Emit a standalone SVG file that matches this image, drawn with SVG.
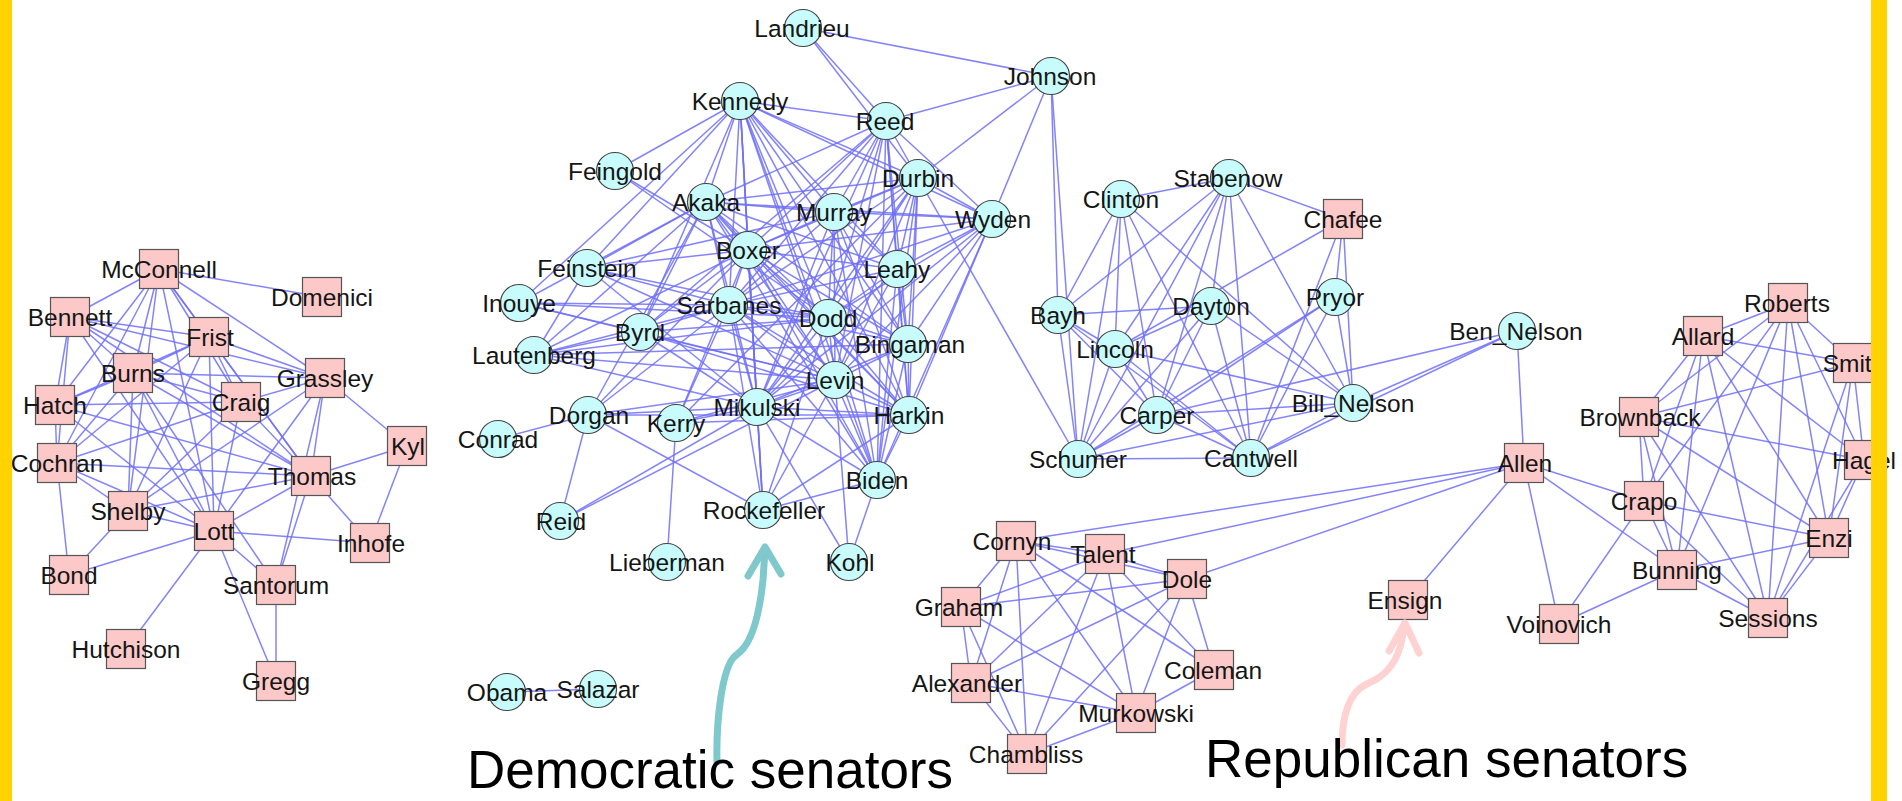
<svg xmlns="http://www.w3.org/2000/svg" width="1902" height="801" viewBox="0 0 1902 801">
<style>
.e line{stroke:#6e6ef8;stroke-width:1.5;stroke-opacity:0.85}
.d circle{fill:#c8fcfc;stroke:#444;stroke-width:1.2}
.r rect{fill:#fcc8c8;stroke:#555;stroke-width:1.2}
text.l{font-family:"Liberation Sans",Arial,sans-serif;font-size:24.5px;fill:#151515;text-anchor:middle}
text.a{font-family:"Liberation Sans",Arial,sans-serif;font-size:53px;fill:#000}
</style>
<rect x="0" y="0" width="1902" height="801" fill="#fff"/>
<g id="connectors" class="e">
<!-- left republican cluster -->
<line x1="159" y1="269" x2="322" y2="297"/><line x1="159" y1="269" x2="70" y2="317"/><line x1="159" y1="269" x2="209" y2="337"/><line x1="159" y1="269" x2="325" y2="378"/><line x1="159" y1="269" x2="55" y2="405"/><line x1="159" y1="269" x2="57" y2="463"/><line x1="159" y1="269" x2="133" y2="373"/><line x1="159" y1="269" x2="128" y2="511"/><line x1="159" y1="269" x2="214" y2="531"/><line x1="159" y1="269" x2="241" y2="402"/><line x1="159" y1="269" x2="311" y2="476"/>
<line x1="70" y1="317" x2="209" y2="337"/><line x1="70" y1="317" x2="133" y2="373"/><line x1="70" y1="317" x2="241" y2="402"/><line x1="70" y1="317" x2="311" y2="476"/><line x1="70" y1="317" x2="55" y2="405"/><line x1="70" y1="317" x2="57" y2="463"/><line x1="70" y1="317" x2="214" y2="531"/><line x1="70" y1="317" x2="325" y2="378"/>
<line x1="209" y1="337" x2="133" y2="373"/><line x1="209" y1="337" x2="325" y2="378"/><line x1="209" y1="337" x2="241" y2="402"/><line x1="209" y1="337" x2="311" y2="476"/><line x1="209" y1="337" x2="214" y2="531"/><line x1="209" y1="337" x2="55" y2="405"/><line x1="209" y1="337" x2="57" y2="463"/><line x1="209" y1="337" x2="128" y2="511"/>
<line x1="133" y1="373" x2="325" y2="378"/><line x1="133" y1="373" x2="241" y2="402"/><line x1="133" y1="373" x2="55" y2="405"/><line x1="133" y1="373" x2="57" y2="463"/><line x1="133" y1="373" x2="128" y2="511"/><line x1="133" y1="373" x2="214" y2="531"/><line x1="133" y1="373" x2="311" y2="476"/><line x1="133" y1="373" x2="276" y2="585"/>
<line x1="55" y1="405" x2="241" y2="402"/><line x1="55" y1="405" x2="57" y2="463"/><line x1="55" y1="405" x2="214" y2="531"/><line x1="55" y1="405" x2="311" y2="476"/>
<line x1="241" y1="402" x2="325" y2="378"/><line x1="241" y1="402" x2="57" y2="463"/><line x1="241" y1="402" x2="128" y2="511"/><line x1="241" y1="402" x2="214" y2="531"/><line x1="241" y1="402" x2="311" y2="476"/>
<line x1="325" y1="378" x2="407" y2="446"/><line x1="325" y1="378" x2="311" y2="476"/><line x1="325" y1="378" x2="214" y2="531"/><line x1="325" y1="378" x2="128" y2="511"/><line x1="325" y1="378" x2="276" y2="585"/>
<line x1="57" y1="463" x2="311" y2="476"/><line x1="57" y1="463" x2="128" y2="511"/><line x1="57" y1="463" x2="214" y2="531"/><line x1="57" y1="463" x2="69" y2="575"/>
<line x1="311" y1="476" x2="407" y2="446"/><line x1="311" y1="476" x2="370" y2="543"/><line x1="311" y1="476" x2="214" y2="531"/><line x1="311" y1="476" x2="128" y2="511"/><line x1="311" y1="476" x2="276" y2="585"/>
<line x1="407" y1="446" x2="370" y2="543"/><line x1="128" y1="511" x2="214" y2="531"/><line x1="128" y1="511" x2="69" y2="575"/>
<line x1="214" y1="531" x2="370" y2="543"/><line x1="214" y1="531" x2="69" y2="575"/><line x1="214" y1="531" x2="276" y2="585"/><line x1="214" y1="531" x2="126" y2="649"/><line x1="214" y1="531" x2="276" y2="681"/><line x1="276" y1="585" x2="276" y2="681"/>
<!-- central democratic cluster: periphery -->
<line x1="803" y1="28" x2="1051" y2="76"/><line x1="803" y1="28" x2="886" y2="121"/><line x1="803" y1="28" x2="918" y2="178"/>
<line x1="1051" y1="76" x2="886" y2="121"/><line x1="1051" y1="76" x2="918" y2="178"/><line x1="1051" y1="76" x2="992" y2="219"/><line x1="1051" y1="76" x2="1058" y2="315"/><line x1="1051" y1="76" x2="1078" y2="459"/><line x1="918" y1="178" x2="1078" y2="459"/>
<line x1="740" y1="101" x2="615" y2="171"/><line x1="740" y1="101" x2="519" y2="303"/><line x1="740" y1="101" x2="587" y2="268"/><line x1="740" y1="101" x2="640" y2="332"/><line x1="740" y1="101" x2="763" y2="510"/>
<line x1="615" y1="171" x2="748" y2="250"/><line x1="615" y1="171" x2="828" y2="318"/>
<line x1="587" y1="268" x2="706" y2="202"/><line x1="587" y1="268" x2="748" y2="250"/><line x1="587" y1="268" x2="729" y2="305"/><line x1="587" y1="268" x2="828" y2="318"/><line x1="587" y1="268" x2="835" y2="380"/><line x1="587" y1="268" x2="534" y2="355"/><line x1="587" y1="268" x2="757" y2="407"/><line x1="587" y1="268" x2="834" y2="212"/>
<line x1="519" y1="303" x2="706" y2="202"/><line x1="519" y1="303" x2="729" y2="305"/><line x1="519" y1="303" x2="640" y2="332"/><line x1="519" y1="303" x2="828" y2="318"/><line x1="519" y1="303" x2="835" y2="380"/>
<line x1="534" y1="355" x2="706" y2="202"/><line x1="534" y1="355" x2="748" y2="250"/><line x1="534" y1="355" x2="729" y2="305"/><line x1="534" y1="355" x2="640" y2="332"/><line x1="534" y1="355" x2="828" y2="318"/><line x1="534" y1="355" x2="835" y2="380"/><line x1="534" y1="355" x2="908" y2="344"/><line x1="534" y1="355" x2="757" y2="407"/>
<line x1="640" y1="332" x2="729" y2="305"/><line x1="640" y1="332" x2="748" y2="250"/><line x1="640" y1="332" x2="828" y2="318"/><line x1="640" y1="332" x2="835" y2="380"/><line x1="640" y1="332" x2="757" y2="407"/><line x1="640" y1="332" x2="886" y2="121"/><line x1="640" y1="332" x2="909" y2="415"/><line x1="640" y1="332" x2="706" y2="202"/>
<line x1="588" y1="415" x2="498" y2="439"/><line x1="588" y1="415" x2="560" y2="521"/><line x1="588" y1="415" x2="748" y2="250"/><line x1="588" y1="415" x2="729" y2="305"/><line x1="588" y1="415" x2="757" y2="407"/><line x1="588" y1="415" x2="763" y2="510"/><line x1="588" y1="415" x2="706" y2="202"/><line x1="588" y1="415" x2="835" y2="380"/><line x1="588" y1="415" x2="909" y2="415"/>
<line x1="676" y1="423" x2="667" y2="562"/><line x1="676" y1="423" x2="729" y2="305"/><line x1="676" y1="423" x2="757" y2="407"/><line x1="676" y1="423" x2="748" y2="250"/><line x1="676" y1="423" x2="835" y2="380"/><line x1="676" y1="423" x2="918" y2="178"/><line x1="676" y1="423" x2="909" y2="415"/>
<line x1="560" y1="521" x2="757" y2="407"/><line x1="560" y1="521" x2="835" y2="380"/>
<line x1="763" y1="510" x2="757" y2="407"/><line x1="763" y1="510" x2="835" y2="380"/><line x1="763" y1="510" x2="828" y2="318"/><line x1="763" y1="510" x2="729" y2="305"/><line x1="763" y1="510" x2="909" y2="415"/><line x1="763" y1="510" x2="877" y2="480"/><line x1="763" y1="510" x2="748" y2="250"/>
<line x1="849" y1="562" x2="757" y2="407"/><line x1="849" y1="562" x2="877" y2="480"/><line x1="849" y1="562" x2="835" y2="380"/>
<!-- central democratic cluster: core -->
<line x1="740" y1="101" x2="886" y2="121"/><line x1="740" y1="101" x2="918" y2="178"/><line x1="740" y1="101" x2="706" y2="202"/><line x1="740" y1="101" x2="834" y2="212"/><line x1="740" y1="101" x2="992" y2="219"/><line x1="740" y1="101" x2="748" y2="250"/><line x1="740" y1="101" x2="897" y2="269"/><line x1="740" y1="101" x2="729" y2="305"/><line x1="740" y1="101" x2="828" y2="318"/><line x1="740" y1="101" x2="908" y2="344"/><line x1="740" y1="101" x2="835" y2="380"/><line x1="740" y1="101" x2="909" y2="415"/><line x1="740" y1="101" x2="757" y2="407"/><line x1="740" y1="101" x2="877" y2="480"/>
<line x1="886" y1="121" x2="918" y2="178"/><line x1="886" y1="121" x2="706" y2="202"/><line x1="886" y1="121" x2="834" y2="212"/><line x1="886" y1="121" x2="992" y2="219"/><line x1="886" y1="121" x2="748" y2="250"/><line x1="886" y1="121" x2="897" y2="269"/><line x1="886" y1="121" x2="729" y2="305"/><line x1="886" y1="121" x2="828" y2="318"/><line x1="886" y1="121" x2="908" y2="344"/><line x1="886" y1="121" x2="835" y2="380"/><line x1="886" y1="121" x2="909" y2="415"/><line x1="886" y1="121" x2="757" y2="407"/><line x1="886" y1="121" x2="877" y2="480"/>
<line x1="918" y1="178" x2="706" y2="202"/><line x1="918" y1="178" x2="834" y2="212"/><line x1="918" y1="178" x2="992" y2="219"/><line x1="918" y1="178" x2="748" y2="250"/><line x1="918" y1="178" x2="897" y2="269"/><line x1="918" y1="178" x2="729" y2="305"/><line x1="918" y1="178" x2="828" y2="318"/><line x1="918" y1="178" x2="908" y2="344"/><line x1="918" y1="178" x2="835" y2="380"/><line x1="918" y1="178" x2="909" y2="415"/><line x1="918" y1="178" x2="757" y2="407"/><line x1="918" y1="178" x2="877" y2="480"/>
<line x1="706" y1="202" x2="834" y2="212"/><line x1="706" y1="202" x2="992" y2="219"/><line x1="706" y1="202" x2="748" y2="250"/><line x1="706" y1="202" x2="897" y2="269"/><line x1="706" y1="202" x2="729" y2="305"/><line x1="706" y1="202" x2="828" y2="318"/><line x1="706" y1="202" x2="908" y2="344"/><line x1="706" y1="202" x2="835" y2="380"/><line x1="706" y1="202" x2="909" y2="415"/><line x1="706" y1="202" x2="757" y2="407"/><line x1="706" y1="202" x2="877" y2="480"/>
<line x1="834" y1="212" x2="992" y2="219"/><line x1="834" y1="212" x2="748" y2="250"/><line x1="834" y1="212" x2="897" y2="269"/><line x1="834" y1="212" x2="729" y2="305"/><line x1="834" y1="212" x2="828" y2="318"/><line x1="834" y1="212" x2="908" y2="344"/><line x1="834" y1="212" x2="835" y2="380"/><line x1="834" y1="212" x2="909" y2="415"/><line x1="834" y1="212" x2="757" y2="407"/><line x1="834" y1="212" x2="877" y2="480"/>
<line x1="992" y1="219" x2="748" y2="250"/><line x1="992" y1="219" x2="897" y2="269"/><line x1="992" y1="219" x2="729" y2="305"/><line x1="992" y1="219" x2="828" y2="318"/><line x1="992" y1="219" x2="908" y2="344"/><line x1="992" y1="219" x2="835" y2="380"/><line x1="992" y1="219" x2="909" y2="415"/><line x1="992" y1="219" x2="757" y2="407"/><line x1="992" y1="219" x2="877" y2="480"/>
<line x1="748" y1="250" x2="897" y2="269"/><line x1="748" y1="250" x2="729" y2="305"/><line x1="748" y1="250" x2="828" y2="318"/><line x1="748" y1="250" x2="908" y2="344"/><line x1="748" y1="250" x2="835" y2="380"/><line x1="748" y1="250" x2="909" y2="415"/><line x1="748" y1="250" x2="757" y2="407"/><line x1="748" y1="250" x2="877" y2="480"/>
<line x1="897" y1="269" x2="729" y2="305"/><line x1="897" y1="269" x2="828" y2="318"/><line x1="897" y1="269" x2="908" y2="344"/><line x1="897" y1="269" x2="835" y2="380"/><line x1="897" y1="269" x2="909" y2="415"/><line x1="897" y1="269" x2="757" y2="407"/><line x1="897" y1="269" x2="877" y2="480"/>
<line x1="729" y1="305" x2="828" y2="318"/><line x1="729" y1="305" x2="908" y2="344"/><line x1="729" y1="305" x2="835" y2="380"/><line x1="729" y1="305" x2="909" y2="415"/><line x1="729" y1="305" x2="757" y2="407"/><line x1="729" y1="305" x2="877" y2="480"/>
<line x1="828" y1="318" x2="908" y2="344"/><line x1="828" y1="318" x2="835" y2="380"/><line x1="828" y1="318" x2="909" y2="415"/><line x1="828" y1="318" x2="757" y2="407"/><line x1="828" y1="318" x2="877" y2="480"/>
<line x1="908" y1="344" x2="835" y2="380"/><line x1="908" y1="344" x2="909" y2="415"/><line x1="908" y1="344" x2="757" y2="407"/><line x1="908" y1="344" x2="877" y2="480"/>
<line x1="835" y1="380" x2="909" y2="415"/><line x1="835" y1="380" x2="757" y2="407"/><line x1="835" y1="380" x2="877" y2="480"/>
<line x1="909" y1="415" x2="757" y2="407"/><line x1="909" y1="415" x2="877" y2="480"/><line x1="757" y1="407" x2="877" y2="480"/>
<!-- right democratic cluster -->
<line x1="1121" y1="199" x2="1229" y2="178"/><line x1="1229" y1="178" x2="1343" y2="219"/><line x1="1121" y1="199" x2="1058" y2="315"/><line x1="1121" y1="199" x2="1115" y2="349"/><line x1="1121" y1="199" x2="1078" y2="459"/><line x1="1121" y1="199" x2="1157" y2="415"/><line x1="1121" y1="199" x2="1251" y2="458"/><line x1="1121" y1="199" x2="1353" y2="403"/>
<line x1="1229" y1="178" x2="1058" y2="315"/><line x1="1229" y1="178" x2="1115" y2="349"/><line x1="1229" y1="178" x2="1078" y2="459"/><line x1="1229" y1="178" x2="1157" y2="415"/><line x1="1229" y1="178" x2="1251" y2="458"/><line x1="1229" y1="178" x2="1211" y2="306"/><line x1="1229" y1="178" x2="1353" y2="403"/>
<line x1="1343" y1="219" x2="1115" y2="349"/><line x1="1343" y1="219" x2="1335" y2="297"/><line x1="1343" y1="219" x2="1353" y2="403"/><line x1="1343" y1="219" x2="1251" y2="458"/>
<line x1="1058" y1="315" x2="1211" y2="306"/><line x1="1058" y1="315" x2="1115" y2="349"/><line x1="1058" y1="315" x2="1078" y2="459"/><line x1="1058" y1="315" x2="1157" y2="415"/><line x1="1058" y1="315" x2="1251" y2="458"/>
<line x1="1211" y1="306" x2="1115" y2="349"/><line x1="1211" y1="306" x2="1078" y2="459"/><line x1="1211" y1="306" x2="1157" y2="415"/><line x1="1211" y1="306" x2="1251" y2="458"/><line x1="1211" y1="306" x2="1353" y2="403"/>
<line x1="1335" y1="297" x2="1157" y2="415"/><line x1="1335" y1="297" x2="1251" y2="458"/><line x1="1335" y1="297" x2="1353" y2="403"/><line x1="1335" y1="297" x2="1078" y2="459"/>
<line x1="1115" y1="349" x2="1078" y2="459"/><line x1="1115" y1="349" x2="1157" y2="415"/><line x1="1115" y1="349" x2="1251" y2="458"/><line x1="1115" y1="349" x2="1353" y2="403"/>
<line x1="1157" y1="415" x2="1078" y2="459"/><line x1="1157" y1="415" x2="1251" y2="458"/><line x1="1157" y1="415" x2="1353" y2="403"/><line x1="1157" y1="415" x2="1517" y2="331"/>
<line x1="1078" y1="459" x2="1251" y2="458"/><line x1="1078" y1="459" x2="1353" y2="403"/><line x1="1251" y1="458" x2="1353" y2="403"/><line x1="1251" y1="458" x2="1517" y2="331"/><line x1="1353" y1="403" x2="1517" y2="331"/>
<line x1="1517" y1="331" x2="1524" y2="463"/>
<!-- right republican cluster -->
<line x1="1703" y1="336" x2="1788" y2="303"/><line x1="1703" y1="336" x2="1853" y2="363"/><line x1="1703" y1="336" x2="1639" y2="417"/><line x1="1703" y1="336" x2="1644" y2="501"/><line x1="1703" y1="336" x2="1677" y2="570"/><line x1="1703" y1="336" x2="1829" y2="538"/><line x1="1703" y1="336" x2="1768" y2="618"/><line x1="1703" y1="336" x2="1864" y2="460"/>
<line x1="1788" y1="303" x2="1853" y2="363"/><line x1="1788" y1="303" x2="1864" y2="460"/><line x1="1788" y1="303" x2="1639" y2="417"/><line x1="1788" y1="303" x2="1644" y2="501"/><line x1="1788" y1="303" x2="1677" y2="570"/><line x1="1788" y1="303" x2="1829" y2="538"/><line x1="1788" y1="303" x2="1768" y2="618"/>
<line x1="1853" y1="363" x2="1639" y2="417"/><line x1="1853" y1="363" x2="1864" y2="460"/><line x1="1853" y1="363" x2="1829" y2="538"/><line x1="1853" y1="363" x2="1768" y2="618"/>
<line x1="1639" y1="417" x2="1644" y2="501"/><line x1="1639" y1="417" x2="1677" y2="570"/><line x1="1639" y1="417" x2="1864" y2="460"/><line x1="1639" y1="417" x2="1829" y2="538"/><line x1="1639" y1="417" x2="1768" y2="618"/>
<line x1="1864" y1="460" x2="1829" y2="538"/><line x1="1864" y1="460" x2="1768" y2="618"/>
<line x1="1644" y1="501" x2="1677" y2="570"/><line x1="1644" y1="501" x2="1829" y2="538"/><line x1="1644" y1="501" x2="1768" y2="618"/><line x1="1644" y1="501" x2="1559" y2="624"/>
<line x1="1829" y1="538" x2="1677" y2="570"/><line x1="1829" y1="538" x2="1768" y2="618"/><line x1="1677" y1="570" x2="1768" y2="618"/><line x1="1677" y1="570" x2="1559" y2="624"/>
<line x1="1524" y1="463" x2="1644" y2="501"/><line x1="1524" y1="463" x2="1677" y2="570"/><line x1="1524" y1="463" x2="1559" y2="624"/><line x1="1524" y1="463" x2="1408" y2="600"/><line x1="1524" y1="463" x2="1016" y2="541"/><line x1="1524" y1="463" x2="1105" y2="554"/><line x1="1524" y1="463" x2="1187" y2="579"/>
<!-- bottom republican cluster -->
<line x1="1016" y1="541" x2="1105" y2="554"/><line x1="1016" y1="541" x2="1187" y2="579"/><line x1="1016" y1="541" x2="961" y2="607"/><line x1="1016" y1="541" x2="971" y2="683"/><line x1="1016" y1="541" x2="1027" y2="754"/><line x1="1016" y1="541" x2="1136" y2="713"/><line x1="1016" y1="541" x2="1214" y2="670"/>
<line x1="1105" y1="554" x2="1187" y2="579"/><line x1="1105" y1="554" x2="961" y2="607"/><line x1="1105" y1="554" x2="971" y2="683"/><line x1="1105" y1="554" x2="1027" y2="754"/><line x1="1105" y1="554" x2="1136" y2="713"/><line x1="1105" y1="554" x2="1214" y2="670"/>
<line x1="1187" y1="579" x2="961" y2="607"/><line x1="1187" y1="579" x2="971" y2="683"/><line x1="1187" y1="579" x2="1027" y2="754"/><line x1="1187" y1="579" x2="1136" y2="713"/><line x1="1187" y1="579" x2="1214" y2="670"/>
<line x1="961" y1="607" x2="971" y2="683"/><line x1="961" y1="607" x2="1027" y2="754"/><line x1="961" y1="607" x2="1136" y2="713"/>
<line x1="971" y1="683" x2="1027" y2="754"/><line x1="971" y1="683" x2="1136" y2="713"/><line x1="1136" y1="713" x2="1027" y2="754"/><line x1="1136" y1="713" x2="1214" y2="670"/>
<line x1="507" y1="692" x2="598" y2="689"/>
</g>
<g id="nodes">
<g id="n-McConnell" class="r"><rect x="139.5" y="249.5" width="39" height="39"/><text class="l" x="159" y="278">McConnell</text></g>
<g id="n-Domenici" class="r"><rect x="302.5" y="277.5" width="39" height="39"/><text class="l" x="322" y="306">Domenici</text></g>
<g id="n-Bennett" class="r"><rect x="50.5" y="297.5" width="39" height="39"/><text class="l" x="70" y="326">Bennett</text></g>
<g id="n-Frist" class="r"><rect x="189.5" y="317.5" width="39" height="39"/><text class="l" x="210" y="346">Frist</text></g>
<g id="n-Burns" class="r"><rect x="113.5" y="353.5" width="39" height="39"/><text class="l" x="133" y="382">Burns</text></g>
<g id="n-Grassley" class="r"><rect x="305.5" y="358.5" width="39" height="39"/><text class="l" x="325" y="387">Grassley</text></g>
<g id="n-Hatch" class="r"><rect x="35.5" y="385.5" width="39" height="39"/><text class="l" x="55" y="414">Hatch</text></g>
<g id="n-Craig" class="r"><rect x="221.5" y="382.5" width="39" height="39"/><text class="l" x="241" y="411">Craig</text></g>
<g id="n-Kyl" class="r"><rect x="387.5" y="426.5" width="39" height="39"/><text class="l" x="408" y="455">Kyl</text></g>
<g id="n-Cochran" class="r"><rect x="37.5" y="443.5" width="39" height="39"/><text class="l" x="57" y="472">Cochran</text></g>
<g id="n-Thomas" class="r"><rect x="291.5" y="456.5" width="39" height="39"/><text class="l" x="312" y="485">Thomas</text></g>
<g id="n-Shelby" class="r"><rect x="108.5" y="491.5" width="39" height="39"/><text class="l" x="128" y="520">Shelby</text></g>
<g id="n-Lott" class="r"><rect x="194.5" y="511.5" width="39" height="39"/><text class="l" x="214" y="540">Lott</text></g>
<g id="n-Inhofe" class="r"><rect x="350.5" y="523.5" width="39" height="39"/><text class="l" x="371" y="552">Inhofe</text></g>
<g id="n-Bond" class="r"><rect x="49.5" y="555.5" width="39" height="39"/><text class="l" x="69" y="584">Bond</text></g>
<g id="n-Santorum" class="r"><rect x="256.5" y="565.5" width="39" height="39"/><text class="l" x="276" y="594">Santorum</text></g>
<g id="n-Hutchison" class="r"><rect x="106.5" y="629.5" width="39" height="39"/><text class="l" x="126" y="658">Hutchison</text></g>
<g id="n-Gregg" class="r"><rect x="256.5" y="661.5" width="39" height="39"/><text class="l" x="276" y="690">Gregg</text></g>

<g id="n-Landrieu" class="d"><circle cx="803" cy="28" r="18.5"/><text class="l" x="802" y="37">Landrieu</text></g>
<g id="n-Johnson" class="d"><circle cx="1051" cy="76" r="18.5"/><text class="l" x="1050" y="85">Johnson</text></g>
<g id="n-Kennedy" class="d"><circle cx="740" cy="101" r="18.5"/><text class="l" x="740" y="110">Kennedy</text></g>
<g id="n-Reed" class="d"><circle cx="886" cy="121" r="18.5"/><text class="l" x="885" y="130">Reed</text></g>
<g id="n-Feingold" class="d"><circle cx="615" cy="171" r="18.5"/><text class="l" x="615" y="180">Feingold</text></g>
<g id="n-Durbin" class="d"><circle cx="918" cy="178" r="18.5"/><text class="l" x="918" y="187">Durbin</text></g>
<g id="n-Akaka" class="d"><circle cx="706" cy="202" r="18.5"/><text class="l" x="706" y="211">Akaka</text></g>
<g id="n-Murray" class="d"><circle cx="834" cy="212" r="18.5"/><text class="l" x="834" y="221">Murray</text></g>
<g id="n-Wyden" class="d"><circle cx="992" cy="219" r="18.5"/><text class="l" x="993" y="228">Wyden</text></g>
<g id="n-Boxer" class="d"><circle cx="748" cy="250" r="18.5"/><text class="l" x="748" y="259">Boxer</text></g>
<g id="n-Feinstein" class="d"><circle cx="587" cy="268" r="18.5"/><text class="l" x="587" y="277">Feinstein</text></g>
<g id="n-Leahy" class="d"><circle cx="897" cy="269" r="18.5"/><text class="l" x="897" y="278">Leahy</text></g>
<g id="n-Inouye" class="d"><circle cx="519" cy="303" r="18.5"/><text class="l" x="519" y="312">Inouye</text></g>
<g id="n-Sarbanes" class="d"><circle cx="729" cy="305" r="18.5"/><text class="l" x="729" y="314">Sarbanes</text></g>
<g id="n-Dodd" class="d"><circle cx="828" cy="318" r="18.5"/><text class="l" x="828" y="327">Dodd</text></g>
<g id="n-Byrd" class="d"><circle cx="640" cy="332" r="18.5"/><text class="l" x="640" y="341">Byrd</text></g>
<g id="n-Bingaman" class="d"><circle cx="908" cy="344" r="18.5"/><text class="l" x="910" y="353">Bingaman</text></g>
<g id="n-Lautenberg" class="d"><circle cx="534" cy="355" r="18.5"/><text class="l" x="534" y="364">Lautenberg</text></g>
<g id="n-Levin" class="d"><circle cx="835" cy="380" r="18.5"/><text class="l" x="835" y="389">Levin</text></g>
<g id="n-Mikulski" class="d"><circle cx="757" cy="407" r="18.5"/><text class="l" x="757" y="416">Mikulski</text></g>
<g id="n-Harkin" class="d"><circle cx="909" cy="415" r="18.5"/><text class="l" x="909" y="424">Harkin</text></g>
<g id="n-Dorgan" class="d"><circle cx="588" cy="415" r="18.5"/><text class="l" x="589" y="424">Dorgan</text></g>
<g id="n-Kerry" class="d"><circle cx="676" cy="423" r="18.5"/><text class="l" x="676" y="432">Kerry</text></g>
<g id="n-Conrad" class="d"><circle cx="498" cy="439" r="18.5"/><text class="l" x="498" y="448">Conrad</text></g>
<g id="n-Biden" class="d"><circle cx="877" cy="480" r="18.5"/><text class="l" x="877" y="489">Biden</text></g>
<g id="n-Rockefeller" class="d"><circle cx="763" cy="510" r="18.5"/><text class="l" x="764" y="519">Rockefeller</text></g>
<g id="n-Reid" class="d"><circle cx="560" cy="521" r="18.5"/><text class="l" x="561" y="530">Reid</text></g>
<g id="n-Lieberman" class="d"><circle cx="667" cy="562" r="18.5"/><text class="l" x="667" y="571">Lieberman</text></g>
<g id="n-Kohl" class="d"><circle cx="849" cy="562" r="18.5"/><text class="l" x="850" y="571">Kohl</text></g>
<g id="n-Obama" class="d"><circle cx="507" cy="692" r="18.5"/><text class="l" x="507" y="701">Obama</text></g>
<g id="n-Salazar" class="d"><circle cx="598" cy="689" r="18.5"/><text class="l" x="598" y="698">Salazar</text></g>

<g id="n-Clinton" class="d"><circle cx="1121" cy="199" r="18.5"/><text class="l" x="1121" y="208">Clinton</text></g>
<g id="n-Stabenow" class="d"><circle cx="1229" cy="178" r="18.5"/><text class="l" x="1228" y="187">Stabenow</text></g>
<g id="n-Chafee" class="r"><rect x="1323.5" y="199.5" width="39" height="39"/><text class="l" x="1343" y="228">Chafee</text></g>
<g id="n-Bayh" class="d"><circle cx="1058" cy="315" r="18.5"/><text class="l" x="1058" y="324">Bayh</text></g>
<g id="n-Dayton" class="d"><circle cx="1211" cy="306" r="18.5"/><text class="l" x="1211" y="315">Dayton</text></g>
<g id="n-Pryor" class="d"><circle cx="1335" cy="297" r="18.5"/><text class="l" x="1335" y="306">Pryor</text></g>
<g id="n-Lincoln" class="d"><circle cx="1115" cy="349" r="18.5"/><text class="l" x="1115" y="358">Lincoln</text></g>
<g id="n-Bill_Nelson" class="d"><circle cx="1353" cy="403" r="18.5"/><text class="l" x="1353" y="412">Bill_Nelson</text></g>
<g id="n-Carper" class="d"><circle cx="1157" cy="415" r="18.5"/><text class="l" x="1157" y="424">Carper</text></g>
<g id="n-Schumer" class="d"><circle cx="1078" cy="459" r="18.5"/><text class="l" x="1078" y="468">Schumer</text></g>
<g id="n-Cantwell" class="d"><circle cx="1251" cy="458" r="18.5"/><text class="l" x="1251" y="467">Cantwell</text></g>
<g id="n-Ben_Nelson" class="d"><circle cx="1517" cy="331" r="18.5"/><text class="l" x="1516" y="340">Ben_Nelson</text></g>

<g id="n-Roberts" class="r"><rect x="1768.5" y="283.5" width="39" height="39"/><text class="l" x="1787" y="312">Roberts</text></g>
<g id="n-Allard" class="r"><rect x="1683.5" y="316.5" width="39" height="39"/><text class="l" x="1703" y="345">Allard</text></g>
<g id="n-Smith" class="r"><rect x="1833.5" y="343.5" width="39" height="39"/><text class="l" x="1854" y="372">Smith</text></g>
<g id="n-Brownback" class="r"><rect x="1619.5" y="397.5" width="39" height="39"/><text class="l" x="1640" y="426">Brownback</text></g>
<g id="n-Hagel" class="r"><rect x="1844.5" y="440.5" width="39" height="39"/><text class="l" x="1864" y="469">Hagel</text></g>
<g id="n-Allen" class="r"><rect x="1504.5" y="443.5" width="39" height="39"/><text class="l" x="1525" y="472">Allen</text></g>
<g id="n-Crapo" class="r"><rect x="1624.5" y="481.5" width="39" height="39"/><text class="l" x="1644" y="510">Crapo</text></g>
<g id="n-Enzi" class="r"><rect x="1809.5" y="518.5" width="39" height="39"/><text class="l" x="1829" y="547">Enzi</text></g>
<g id="n-Bunning" class="r"><rect x="1657.5" y="550.5" width="39" height="39"/><text class="l" x="1677" y="579">Bunning</text></g>
<g id="n-Ensign" class="r"><rect x="1388.5" y="580.5" width="39" height="39"/><text class="l" x="1405" y="609">Ensign</text></g>
<g id="n-Voinovich" class="r"><rect x="1539.5" y="604.5" width="39" height="39"/><text class="l" x="1559" y="633">Voinovich</text></g>
<g id="n-Sessions" class="r"><rect x="1748.5" y="598.5" width="39" height="39"/><text class="l" x="1768" y="627">Sessions</text></g>

<g id="n-Cornyn" class="r"><rect x="996.5" y="521.5" width="39" height="39"/><text class="l" x="1012" y="550">Cornyn</text></g>
<g id="n-Talent" class="r"><rect x="1085.5" y="534.5" width="39" height="39"/><text class="l" x="1103" y="563">Talent</text></g>
<g id="n-Dole" class="r"><rect x="1167.5" y="559.5" width="39" height="39"/><text class="l" x="1187" y="588">Dole</text></g>
<g id="n-Graham" class="r"><rect x="941.5" y="587.5" width="39" height="39"/><text class="l" x="959" y="616">Graham</text></g>
<g id="n-Alexander" class="r"><rect x="951.5" y="663.5" width="39" height="39"/><text class="l" x="967" y="692">Alexander</text></g>
<g id="n-Coleman" class="r"><rect x="1194.5" y="650.5" width="39" height="39"/><text class="l" x="1213" y="679">Coleman</text></g>
<g id="n-Murkowski" class="r"><rect x="1116.5" y="693.5" width="39" height="39"/><text class="l" x="1136" y="722">Murkowski</text></g>
<g id="n-Chambliss" class="r"><rect x="1007.5" y="734.5" width="39" height="39"/><text class="l" x="1026" y="763">Chambliss</text></g>
</g>
<g id="annotations">
<path d="M717 762 C716 720 722 670 734 657 L741 651 C751 641 759 618 763 580 L765 550" fill="none" stroke="#7fc8cc" stroke-width="7" stroke-linecap="round"/>
<polyline points="748,576 765,547 781,574" fill="none" stroke="#7fc8cc" stroke-width="7" stroke-linecap="round" stroke-linejoin="round"/>
<path d="M1342 745 C1342 715 1350 692 1365 685 L1375 680 C1392 670 1401 655 1404 626" fill="none" stroke="#ffd2d2" stroke-width="7" stroke-linecap="round"/>
<polyline points="1389,651 1405,623 1419,653" fill="none" stroke="#ffd2d2" stroke-width="7" stroke-linecap="round" stroke-linejoin="round"/>
<text class="a" x="467" y="788">Democratic senators</text>
<text class="a" x="1205" y="777">Republican senators</text>
</g>
<rect x="0" y="0" width="12" height="801" fill="#ffd200"/>
<rect x="1871" y="0" width="16" height="801" fill="#ffd200"/>
</svg>
